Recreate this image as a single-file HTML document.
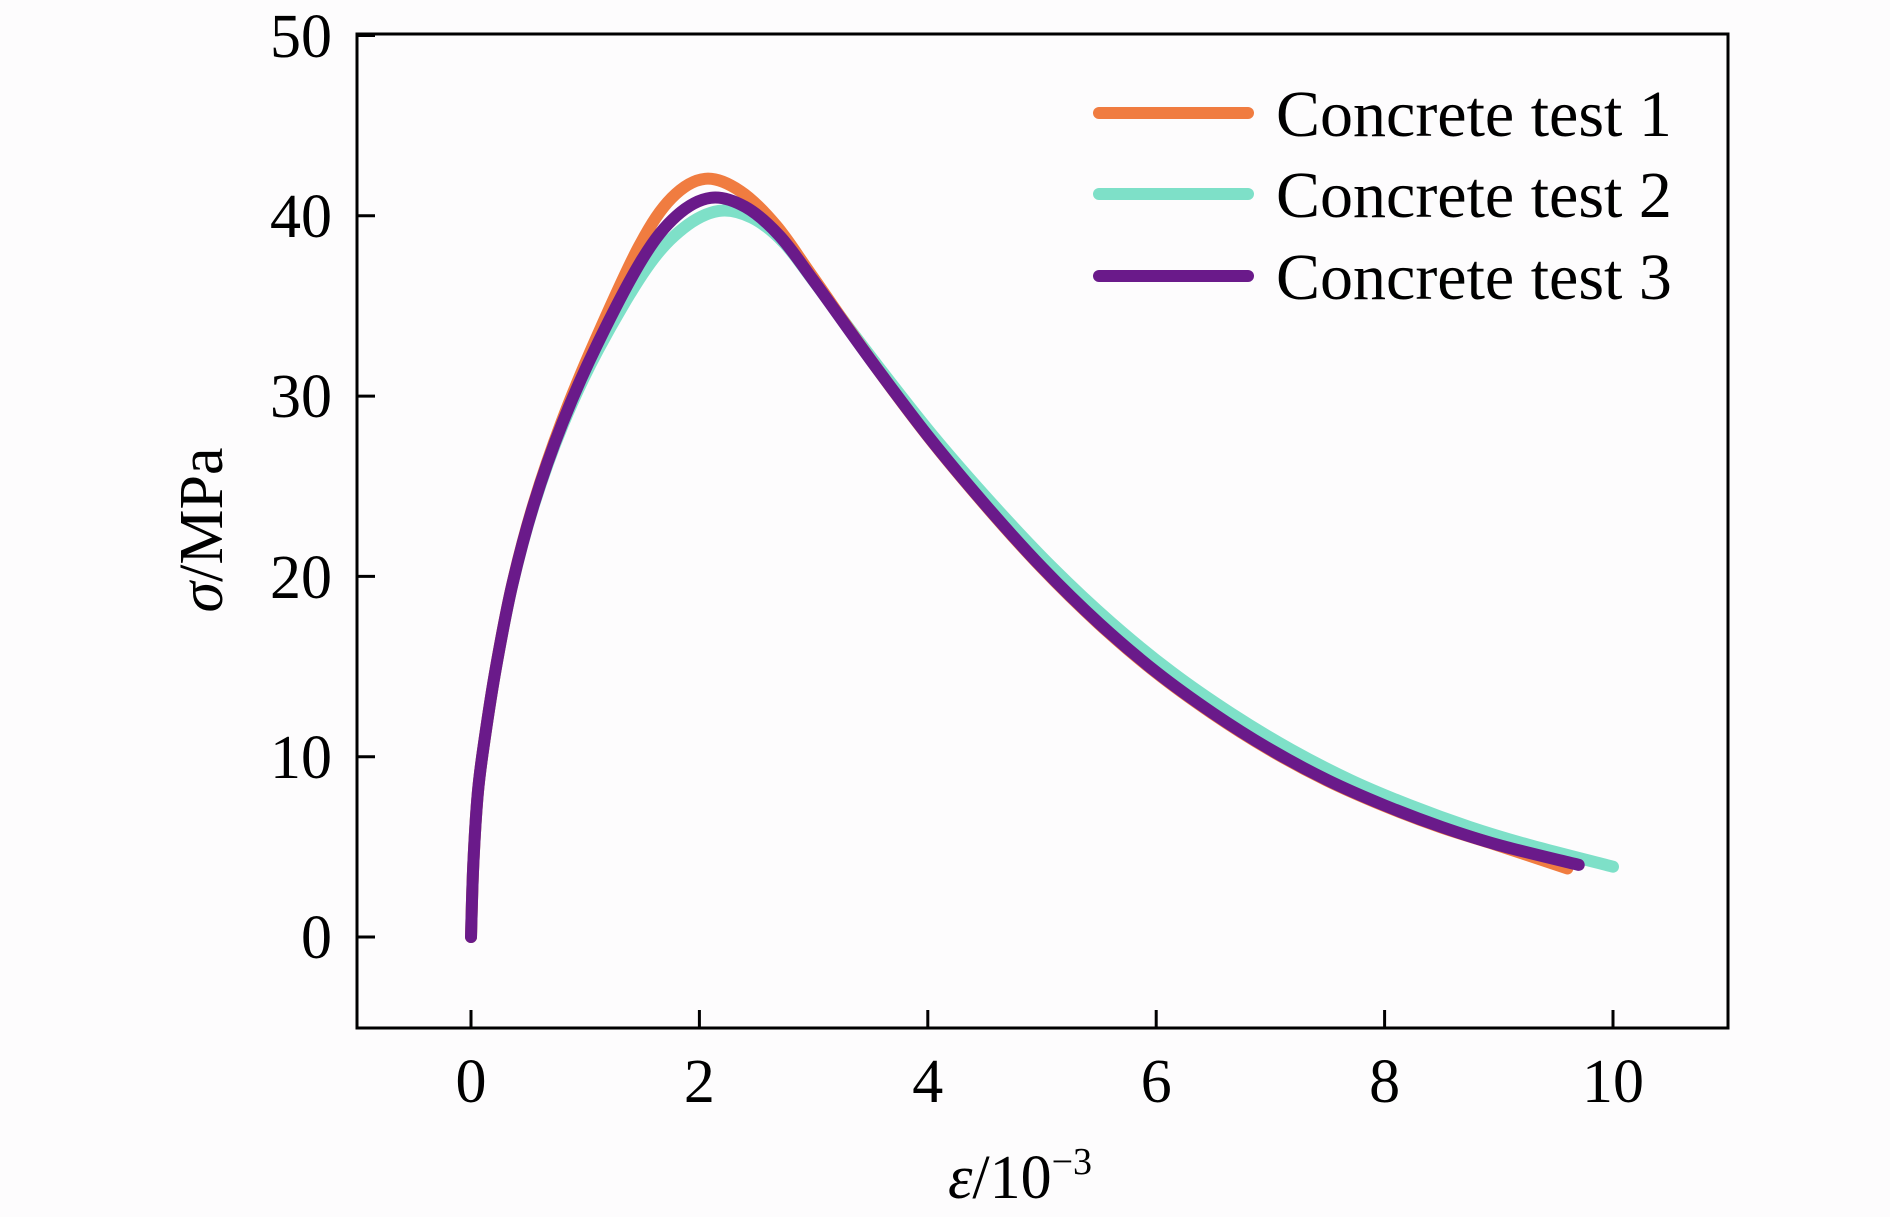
<!DOCTYPE html>
<html><head><meta charset="utf-8"><style>
html,body{margin:0;padding:0;background:#fdfcfd;}
svg{display:block;font-family:"Liberation Serif",serif;}
</style></head><body>
<svg id="s" width="1890" height="1217" viewBox="0 0 1890 1217" xmlns="http://www.w3.org/2000/svg">
<rect width="1890" height="1217" fill="#fdfcfd"/>
<g id="curves" fill="none" stroke-linecap="round" stroke-linejoin="round"></g>
<rect x="357" y="34" width="1371" height="994" fill="none" stroke="#000" stroke-width="3"/>
<g stroke="#000" stroke-width="3">
<line x1="471" y1="1028" x2="471" y2="1010"/><line x1="699.4" y1="1028" x2="699.4" y2="1010"/>
<line x1="927.8" y1="1028" x2="927.8" y2="1010"/><line x1="1156.2" y1="1028" x2="1156.2" y2="1010"/>
<line x1="1384.6" y1="1028" x2="1384.6" y2="1010"/><line x1="1613" y1="1028" x2="1613" y2="1010"/>
<line x1="357" y1="937" x2="375" y2="937"/><line x1="357" y1="756.7" x2="375" y2="756.7"/>
<line x1="357" y1="576.4" x2="375" y2="576.4"/><line x1="357" y1="396.1" x2="375" y2="396.1"/>
<line x1="357" y1="215.8" x2="375" y2="215.8"/><line x1="357" y1="35.5" x2="375" y2="35.5"/>
</g>
<g font-size="62" text-anchor="middle" fill="#000">
<text x="471" y="1102">0</text><text x="699.4" y="1102">2</text><text x="927.8" y="1102">4</text>
<text x="1156.2" y="1102">6</text><text x="1384.6" y="1102">8</text><text x="1613" y="1102">10</text>
</g>
<g font-size="62" text-anchor="end" fill="#000">
<text x="332" y="958">0</text><text x="332" y="778">10</text><text x="332" y="598">20</text>
<text x="332" y="417">30</text><text x="332" y="237">40</text><text x="332" y="57">50</text>
</g>
<text x="1020" y="1198" font-size="62" text-anchor="middle"><tspan font-style="italic">ε</tspan>/10<tspan font-size="38" dy="-24">−3</tspan></text>
<text transform="translate(222,530) rotate(-90)" font-size="62" text-anchor="middle"><tspan font-style="italic">σ</tspan>/MPa</text>
<g stroke-width="12" stroke-linecap="round">
<line x1="1099" y1="113" x2="1248" y2="113" stroke="#f07c40"/>
<line x1="1099" y1="194" x2="1248" y2="194" stroke="#7ee0c8"/>
<line x1="1099" y1="276" x2="1248" y2="276" stroke="#6a1a8a"/>
</g>
<g font-size="66" fill="#000">
<text x="1276" y="136">Concrete test 1</text>
<text x="1276" y="217">Concrete test 2</text>
<text x="1276" y="299">Concrete test 3</text>
</g>
</svg>
<script>
function X(x){return 471+114.2*x;}function Y(y){return 937-18.03*y;}
function path(p){var d="M"+X(p[0][0])+","+Y(p[0][1]);
for(var i=0;i<p.length-1;i++){var p0=p[Math.max(i-1,0)],p1=p[i],p2=p[i+1],p3=p[Math.min(i+2,p.length-1)];
var a=[X(p0[0]),Y(p0[1])],b=[X(p1[0]),Y(p1[1])],c=[X(p2[0]),Y(p2[1])],e=[X(p3[0]),Y(p3[1])];
d+=" C"+(b[0]+(c[0]-a[0])/6)+","+(b[1]+(c[1]-a[1])/6)+" "+(c[0]-(e[0]-b[0])/6)+","+(c[1]-(e[1]-b[1])/6)+" "+c[0]+","+c[1];}
return d;}
var c3=[[0,0],[0.02,4],[0.06,8],[0.12,11],[0.22,15],[0.36,19.5],[0.55,24],[0.8,28.5],[1.1,32.8],[1.5,37.6],[1.8,40],[2.1,41],[2.4,40.5],[2.7,38.9],[3.0,36.4],[3.5,32],[4,27.8],[4.5,24],[5,20.5],[5.5,17.4],[6,14.7],[6.5,12.4],[7,10.4],[7.5,8.7],[8,7.3],[8.5,6.1],[9,5.1],[9.7,4]];
function G(x){return Math.exp(-Math.pow((x-2.0)/0.9,2));}
var c1=c3.map(function(p){var x=p[0],y=p[1];var t=Math.min(1,x/2);return [x-0.05*t*G(x)-0.02*Math.max(0,x-3)/6.7,y*(1+0.026*G(x))];});
var c2=c3.map(function(p){var x=p[0],y=p[1];var t=Math.min(1,x/2);return [x+0.07*t*G(x)+0.3*Math.max(0,x-3)/6.7,y*(1-0.018*G(x))];});
c1[c1.length-1]=[9.6,3.8];c2[c2.length-1]=[10,3.9];
var g=document.getElementById("curves");
[[c2,"#7ee0c8"],[c1,"#f07c40"],[c3,"#6a1a8a"]].forEach(function(k){
var el=document.createElementNS("http://www.w3.org/2000/svg","path");
el.setAttribute("d",path(k[0]));el.setAttribute("stroke",k[1]);el.setAttribute("stroke-width","12");g.appendChild(el);});
</script>
</body></html>
